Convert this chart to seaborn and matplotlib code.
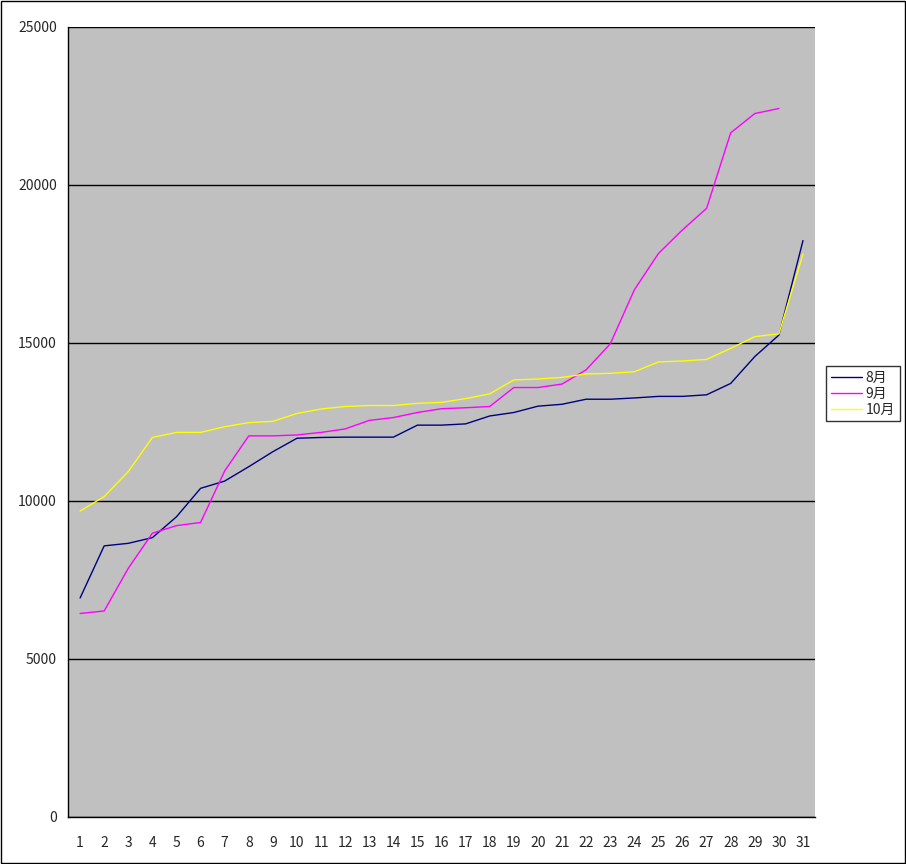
import matplotlib
matplotlib.use("Agg")
import matplotlib.pyplot as plt
from matplotlib.ticker import FixedLocator
import seaborn as sns
import pandas as pd

days = list(range(1, 32))
aug = [6930, 8580, 8660, 8840, 9500, 10400, 10630, 11085, 11560, 11985, 12010,
       12020, 12020, 12020, 12400, 12400, 12440, 12690, 12800, 13000, 13060,
       13220, 13220, 13260, 13310, 13310, 13360, 13720, 14570, 15250, 18240]
sep = [6440, 6520, 7870, 8980, 9220, 9320, 10950, 12060, 12060, 12090, 12170,
       12280, 12550, 12640, 12800, 12920, 12950, 12990, 13590, 13590, 13700,
       14150, 14970, 16680, 17830, 18580, 19260, 21650, 22260, 22420]
oct_ = [9680, 10140, 10930, 12010, 12170, 12170, 12350, 12480, 12520, 12770, 12910,
        12990, 13020, 13020, 13090, 13120, 13240, 13390, 13830, 13860, 13910,
        14020, 14040, 14090, 14400, 14430, 14480, 14830, 15200, 15290, 17820]
months = ["8月", "9月", "10月"]
colors = ["#000080", "#FF00FF", "#FFFF00"]

df = pd.concat([
    pd.DataFrame({"day": days[:len(v)], "value": v, "month": m})
    for m, v in zip(months, [aug, sep, oct_])
])

sns.set_style("white")
plt.rcParams["font.family"] = ["Noto Sans CJK JP", "DejaVu Sans"]

fig = plt.figure(figsize=(9.06, 8.64), dpi=100)
ax = fig.add_axes([0.0751, 0.0544, 0.8245, 0.9144])
ax.set_facecolor("#C0C0C0")

sns.lineplot(data=df, x="day", y="value", hue="month", palette=colors,
             linewidth=1.0, ax=ax, legend=True)

ax.set_xlim(0.5, 31.5)
ax.set_ylim(0, 25000)
ax.set_yticks(range(0, 25001, 5000))
ax.yaxis.grid(True, color="black", linewidth=1.0)
ax.set_axisbelow(True)
ax.set_xticks(days)
ax.set_xticklabels([str(d) for d in days], fontsize=10)
ax.xaxis.set_minor_locator(FixedLocator([d + 0.5 for d in range(0, 32)]))
ax.tick_params(axis="x", which="major", length=0, pad=14)
ax.tick_params(axis="x", which="minor", length=5, direction="in", color="black")
ax.tick_params(axis="y", labelsize=10, length=0, pad=8)
ax.set_xlabel("")
ax.set_ylabel("")
for s in ["top", "right"]:
    ax.spines[s].set_visible(False)
for s in ["left", "bottom"]:
    ax.spines[s].set_color("black")
    ax.spines[s].set_linewidth(1.0)

leg = ax.legend(loc="center left", bbox_to_anchor=(1.015, 0.536), frameon=True,
                fontsize=10, handlelength=2.2, borderpad=0.35, labelspacing=0.15,
                handletextpad=0.3, borderaxespad=0, fancybox=False,
                edgecolor="black")
leg.get_frame().set_linewidth(1.0)

border = plt.Rectangle((0.001, 0.001), 0.998, 0.998, transform=fig.transFigure,
                       fill=False, edgecolor="black", linewidth=1.0)
fig.patches.append(border)

fig.savefig("out.png", dpi=100, facecolor="white")
